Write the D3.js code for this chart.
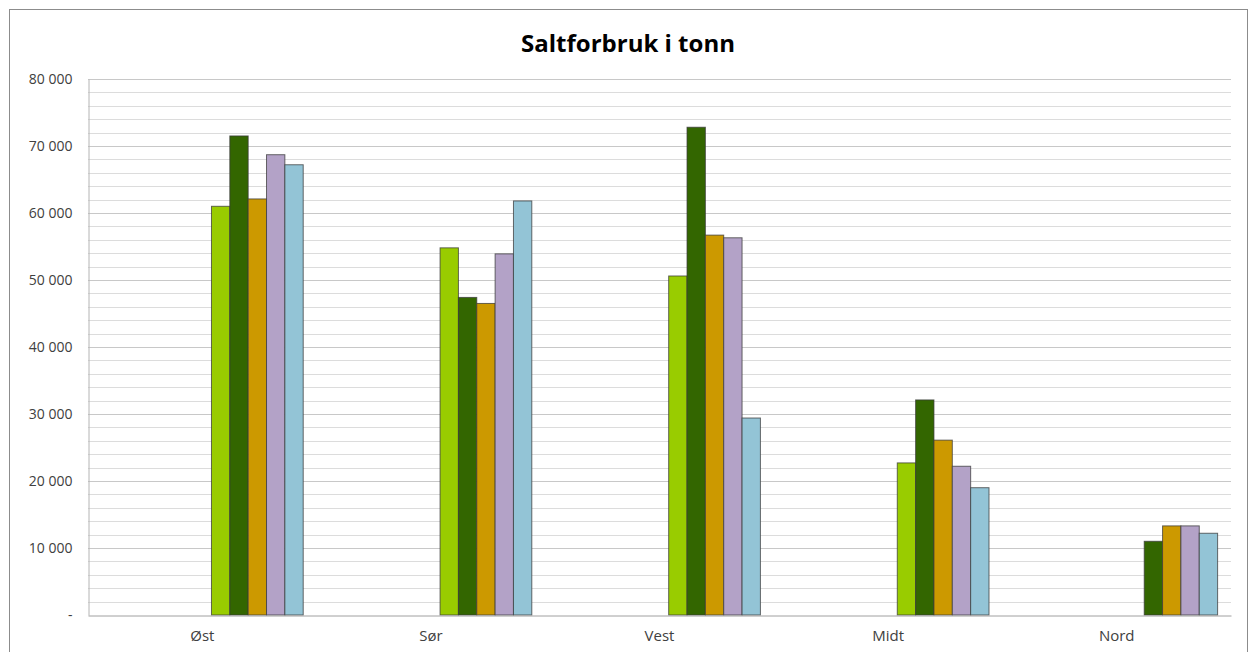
<!DOCTYPE html>
<html>
<head>
<meta charset="utf-8">
<script src="https://cdn.jsdelivr.net/npm/d3@7"></script>
<style>
  html, body { margin: 0; padding: 0; background: #fff; }
  svg { display: block; font-family: "Open Sans", "Liberation Sans", sans-serif; }
</style>
</head>
<body>
<svg id="chart" width="1249" height="652"></svg>
<script>
// ---------- data ----------
var categories = ["Øst", "Sør", "Vest", "Midt", "Nord"];
// 11 serier i Excel-diagrammet; de seks første er tomme (ingen data)
var seriesNames = ["s1", "s2", "s3", "s4", "s5", "s6", "s7", "s8", "s9", "s10", "s11"];
var seriesColors = ["#99cc00", "#99cc00", "#99cc00", "#99cc00", "#99cc00", "#99cc00",
                    "#99cc00", "#336600", "#cc9900", "#b3a2c7", "#93c4d6"];
var s1 = [null, null, null, null, null];
var s2 = [null, null, null, null, null];
var s3 = [null, null, null, null, null];
var s4 = [null, null, null, null, null];
var s5 = [null, null, null, null, null];
var s6 = [null, null, null, null, null];
var s7 = [61000, 54800, 50600, 22700, null];
var s8 = [71500, 47400, 72800, 32100, 11000];
var s9 = [62100, 46500, 56700, 26100, 13300];
var s10 = [68700, 53900, 56300, 22200, 13300];
var s11 = [67200, 61800, 29400, 19000, 12200];
var seriesValues = [s1, s2, s3, s4, s5, s6, s7, s8, s9, s10, s11];
var yTicks = [0, 10000, 20000, 30000, 40000, 50000, 60000, 70000, 80000];

// ---------- layout ----------
var svg = d3.select("#chart");
var plot = { l: 88, r: 1231, t: 79, b: 615 };

svg.append("rect").attr("x", 9.5).attr("y", 9.5).attr("width", 1238).attr("height", 660)
  .attr("fill", "#fff").attr("stroke", "#8c8c8c").attr("stroke-width", 1);

svg.append("text").attr("x", 628).attr("y", 52).attr("text-anchor", "middle")
  .attr("font-size", 24).attr("font-weight", "bold").attr("fill", "#000")
  .text("Saltforbruk i tonn");

var x0 = d3.scaleBand().domain(categories).range([plot.l, plot.r]).paddingInner(0).paddingOuter(0);
var x1 = d3.scaleBand().domain(seriesNames).range([0, x0.bandwidth()]).paddingOuter(0.73).paddingInner(0);
var y = d3.scaleLinear().domain([0, 80000]).range([plot.b, plot.t]);

// hjelpelinjer hver 2000
var minor = d3.range(0, 80001, 2000).filter(function (v) { return v % 10000 !== 0; });
svg.append("g").selectAll("line").data(minor).enter().append("line")
  .attr("x1", plot.l).attr("x2", plot.r)
  .attr("y1", function (d) { return Math.round(y(d)) + 0.5; }).attr("y2", function (d) { return Math.round(y(d)) + 0.5; })
  .attr("stroke", "#dcdcdc").attr("stroke-width", 1);
svg.append("g").selectAll("line").data(yTicks.slice(1)).enter().append("line")
  .attr("x1", plot.l).attr("x2", plot.r)
  .attr("y1", function (d) { return Math.round(y(d)) + 0.5; }).attr("y2", function (d) { return Math.round(y(d)) + 0.5; })
  .attr("stroke", "#c8c8c8").attr("stroke-width", 1);

// y-akse
var fmt = function (v) { return v === 0 ? "-" : d3.format(",")(v).replace(/,/g, " "); };
var yAxis = svg.append("g").attr("transform", "translate(" + (plot.l + 0.5) + ",0)")
  .call(d3.axisLeft(y).tickValues(yTicks).tickSize(0).tickPadding(16).tickFormat(fmt));
yAxis.select(".domain").attr("stroke", "#b4b4b4");
yAxis.selectAll("text").attr("font-size", 14).attr("fill", "#404040")
  .attr("font-family", "\"Open Sans\", \"Liberation Sans\", sans-serif");

// søyler
var cells = [];
categories.forEach(function (c, ci) {
  seriesNames.forEach(function (s, si) {
    var v = seriesValues[si][ci];
    if (v != null) cells.push({ cat: c, ser: s, si: si, v: v });
  });
});
svg.append("g").selectAll("rect").data(cells).enter().append("rect")
  .attr("x", function (d) { return x0(d.cat) + x1(d.ser); })
  .attr("y", function (d) { return y(d.v); })
  .attr("width", x1.bandwidth())
  .attr("height", function (d) { return plot.b - y(d.v); })
  .attr("fill", function (d) { return seriesColors[d.si]; })
  .attr("stroke", "#3a3a3a").attr("stroke-opacity", 0.75).attr("stroke-width", 1);

// x-akse
var xAxis = svg.append("g").attr("transform", "translate(0," + (plot.b + 0.5) + ")")
  .call(d3.axisBottom(x0).tickSize(0).tickPadding(15));
xAxis.select(".domain").attr("stroke", "#a0a0a0");
xAxis.selectAll("text").attr("font-size", 15).attr("fill", "#404040")
  .attr("font-family", "\"Open Sans\", \"Liberation Sans\", sans-serif");
</script>
</body>
</html>
